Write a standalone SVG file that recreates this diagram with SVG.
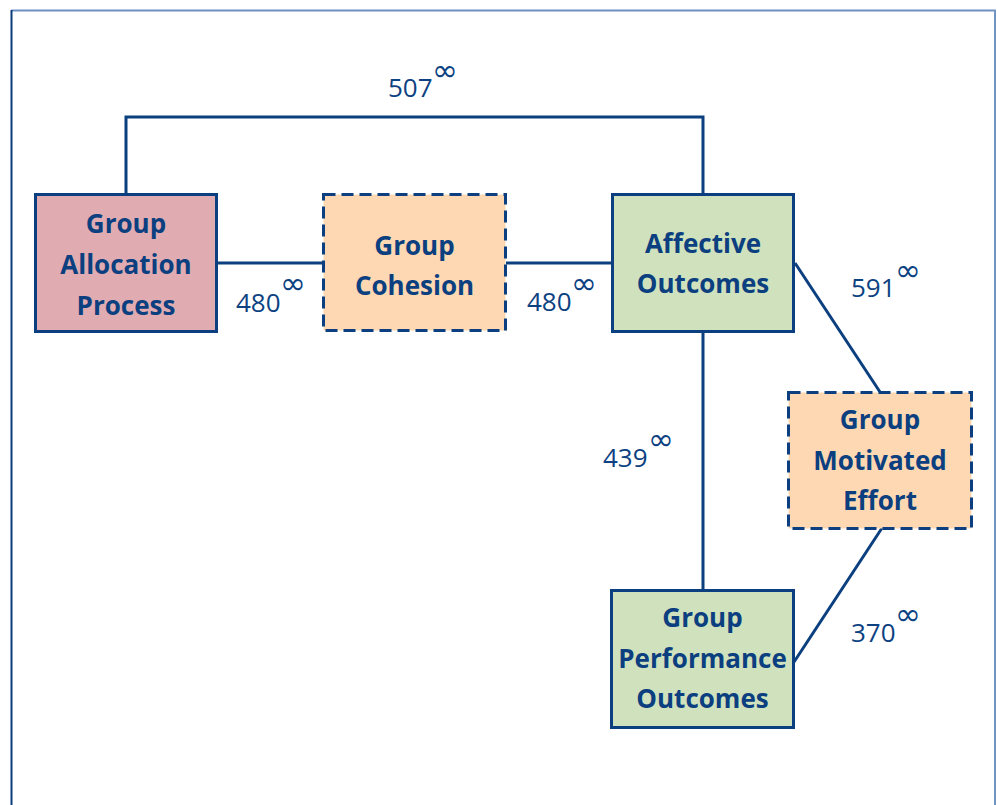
<svg xmlns="http://www.w3.org/2000/svg" width="997" height="805" viewBox="0 0 997 805">
  <style>
    .box { stroke: #0b3f7f; stroke-width: 3; }
    .dashed { stroke-dasharray: 12 6; }
    .alloc { fill: #e0acb1; }
    .mediator { fill: #fdd8b2; }
    .outcome { fill: #d0e2bd; }
    .name { font-family: "Open Sans", "Liberation Sans", sans-serif; font-weight: bold; font-size: 26px; fill: #0b3f7f; text-anchor: middle; }
    .coef { font-family: "Open Sans", "Liberation Sans", sans-serif; font-size: 26px; fill: #0d4282; }
    .inf { font-family: "DejaVu Sans", sans-serif; font-size: 31px; }
    .link { fill: none; stroke: #0b3f7f; stroke-width: 3; }
  </style>
  <rect width="997" height="805" fill="#ffffff"/>

  <!-- page frame -->
  <g id="frame">
    <line x1="11" y1="10.5" x2="996" y2="10.5" stroke="#6e8fc0" stroke-width="2"/>
    <line x1="11.5" y1="10" x2="11.5" y2="805" stroke="#0d3c7a" stroke-width="2"/>
    <line x1="995" y1="10" x2="995" y2="805" stroke="#7094c4" stroke-width="2"/>
  </g>

  <!-- connectors -->
  <g id="connectors">
    <polyline class="link" points="126,194 126,117 703,117 703,194"/>
    <line class="link" x1="218" y1="263" x2="323" y2="263"/>
    <line class="link" x1="506" y1="263" x2="612" y2="263"/>
    <line class="link" x1="703" y1="332" x2="703" y2="590"/>
    <line class="link" x1="795" y1="263" x2="880" y2="392"/>
    <line class="link" x1="882" y1="528" x2="794" y2="662"/>
  </g>

  <!-- coefficients -->
  <g id="labels">
    <text class="coef" x="388" y="97">507<tspan class="inf" x="432" y="81">∞</tspan></text>
    <text class="coef" x="236" y="312">480<tspan class="inf" x="280" y="294">∞</tspan></text>
    <text class="coef" x="527" y="311">480<tspan class="inf" x="571" y="294">∞</tspan></text>
    <text class="coef" x="851" y="297">591<tspan class="inf" x="895" y="281">∞</tspan></text>
    <text class="coef" x="603" y="467">439<tspan class="inf" x="648" y="450">∞</tspan></text>
    <text class="coef" x="851" y="642">370<tspan class="inf" x="895" y="625">∞</tspan></text>
  </g>

  <g id="group-allocation-process">
    <rect class="box alloc" x="35.5" y="194.5" width="181" height="137"/>
    <text class="name" x="126" y="233">Group</text>
    <text class="name" x="126" y="274">Allocation</text>
    <text class="name" x="126" y="315">Process</text>
  </g>

  <g id="group-cohesion">
    <rect class="box mediator dashed" x="323.5" y="194.5" width="182" height="136"/>
    <text class="name" x="414.5" y="255">Group</text>
    <text class="name" x="414.5" y="295">Cohesion</text>
  </g>

  <g id="affective-outcomes">
    <rect class="box outcome" x="612.5" y="194.5" width="181" height="137"/>
    <text class="name" x="703" y="253">Affective</text>
    <text class="name" x="703" y="293">Outcomes</text>
  </g>

  <g id="group-motivated-effort">
    <rect class="box mediator dashed" x="788.5" y="392.5" width="183" height="136"/>
    <text class="name" x="880" y="429">Group</text>
    <text class="name" x="880" y="470">Motivated</text>
    <text class="name" x="880" y="510">Effort</text>
  </g>

  <g id="group-performance-outcomes">
    <rect class="box outcome" x="611.5" y="590.5" width="182" height="137"/>
    <text class="name" x="702.5" y="627">Group</text>
    <text class="name" x="702.5" y="668">Performance</text>
    <text class="name" x="702.5" y="708">Outcomes</text>
  </g>
</svg>
